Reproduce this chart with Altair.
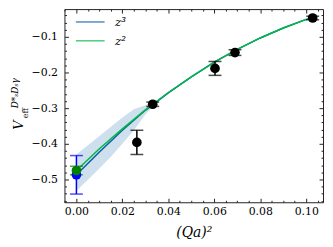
import altair as alt
import pandas as pd

# ---- data ----
pt_x = [0.0263, 0.0332, 0.0603, 0.0690, 0.1028, 0.0, 0.0]
pt_y = [-0.396, -0.289, -0.1885, -0.144, -0.047, -0.487, -0.475]
pt_err = [0.034, 0.006, 0.0195, 0.008, 0.005, 0.054, 0.012]
pt_col = ["#000000", "#000000", "#000000", "#000000", "#000000", "#0000ff", "#008000"]

z2_x = [0.0, 0.01, 0.02, 0.03, 0.04, 0.05, 0.06, 0.07, 0.08, 0.09, 0.10, 0.103]
z2_y = [-0.475, -0.414, -0.358, -0.305, -0.256, -0.212, -0.171, -0.135, -0.103, -0.075, -0.051, -0.046]

z3_x = [0.0, 0.01, 0.02, 0.03, 0.04, 0.05, 0.06, 0.07, 0.08, 0.09, 0.10, 0.103]
z3_y = [-0.487, -0.423, -0.362, -0.306, -0.257, -0.212, -0.171, -0.135, -0.103, -0.075, -0.051, -0.046]

band_x = [0.0, 0.005, 0.01, 0.015, 0.02, 0.025, 0.03, 0.034]
band_lo = [-0.532, -0.501, -0.469, -0.436, -0.400, -0.362, -0.318, -0.292]
band_hi = [-0.430, -0.404, -0.378, -0.352, -0.326, -0.303, -0.292, -0.284]

fit_names = ["z³", "z²"]
fit_colors = ["#0C5DA5", "#00B945"]

x_major = [0.0, 0.02, 0.04, 0.06, 0.08, 0.10]
x_minor = [round(-0.005 + 0.005 * i, 3) for i in range(23)]
x_minor = [v for v in x_minor if all(abs(v - m) > 1e-9 for m in x_major)]
y_major = [-0.5, -0.4, -0.3, -0.2, -0.1]
y_minor = [round(-0.56 + 0.02 * i, 2) for i in range(27)]
y_minor = [v for v in y_minor if all(abs(v - m) > 1e-9 for m in y_major)]

ytitle_parts = ["V", "eff", "D*ₛDₛγ"]

# ---- tables ----
df_pts = pd.DataFrame({"x": pt_x, "y": pt_y, "lo": [a - b for a, b in zip(pt_y, pt_err)],
                       "hi": [a + b for a, b in zip(pt_y, pt_err)], "col": pt_col})
df_z2 = pd.DataFrame({"x": z2_x, "y": z2_y, "fit": fit_names[1]})
df_z3 = pd.DataFrame({"x": z3_x, "y": z3_y, "fit": fit_names[0]})
df_band = pd.DataFrame({"x": band_x, "lo": band_lo, "hi": band_hi})

xs = alt.Scale(domain=[-0.0052, 0.1073], nice=False, zero=False)
ys = alt.Scale(domain=[-0.564, -0.022], nice=False, zero=False)
FONT = "DejaVu Serif"
TC = "#222222"


def xax(orient, vals, size, labels=False, title=None):
    kw = dict(orient=orient, values=vals, tickSize=size, offset=-size, domain=False, grid=False,
              labels=labels, ticks=True, tickColor=TC, tickWidth=1)
    if labels:
        kw.update(format=".2f", labelFont=FONT, labelFontSize=11, labelColor="black",
                  labelPadding=3, labelFlush=False, labelOverlap=False)
    if title:
        kw.update(title=title, titleFont=FONT, titleFontSize=14, titleFontStyle="italic",
                  titleFontWeight="normal", titleColor="black", titlePadding=10)
    else:
        kw.update(title=None)
    return alt.Axis(**kw)


def yax(orient, vals, size, labels=False):
    kw = dict(orient=orient, values=vals, tickSize=size, offset=-size, domain=False, grid=False,
              labels=labels, ticks=True, tickColor=TC, tickWidth=1, title=None)
    if labels:
        kw.update(format=".1f", labelFont=FONT, labelFontSize=11, labelColor="black",
                  labelPadding=7, labelFlush=False, labelOverlap=False)
    return alt.Axis(**kw)


color = alt.Color("fit:N", scale=alt.Scale(domain=fit_names, range=fit_colors),
                  legend=alt.Legend(orient="none", legendX=18, legendY=5, title=None,
                                    symbolType="M-2,0L2,0", symbolSize=210, symbolStrokeWidth=1.5,
                                    labelFont=FONT, labelFontStyle="italic", labelFontSize=12,
                                    labelOffset=17, rowPadding=5, padding=0, labelColor="black"))

band = alt.Chart(df_band).mark_area(color="#0C5DA5", opacity=0.2).encode(
    x=alt.X("x:Q", scale=xs, axis=xax("bottom", x_major, 4, labels=True, title="(Qa)²")),
    y=alt.Y("lo:Q", scale=ys, axis=yax("left", y_major, 4, labels=True)),
    y2="hi:Q")

line3 = alt.Chart(df_z3).mark_line(strokeWidth=1.5).encode(
    x=alt.X("x:Q", scale=xs, axis=xax("bottom", x_minor, 2)),
    y=alt.Y("y:Q", scale=ys, axis=yax("left", y_minor, 2)),
    color=color)

line2 = alt.Chart(df_z2).mark_line(strokeWidth=1.5).encode(
    x=alt.X("x:Q", scale=xs, axis=None),
    y=alt.Y("y:Q", scale=ys, axis=None),
    color=color)

rules = alt.Chart(df_pts).mark_rule(strokeWidth=1.5).encode(
    x=alt.X("x:Q", scale=xs, axis=xax("top", x_major, 4)),
    y=alt.Y("lo:Q", scale=ys, axis=yax("right", y_major, 4)),
    y2="hi:Q",
    color=alt.Color("col:N", scale=None))

cap_lo = alt.Chart(df_pts).mark_tick(orient="horizontal", size=13, thickness=1.5).encode(
    x=alt.X("x:Q", scale=xs, axis=xax("top", x_minor, 2)),
    y=alt.Y("lo:Q", scale=ys, axis=yax("right", y_minor, 2)),
    color=alt.Color("col:N", scale=None))

cap_hi = alt.Chart(df_pts).mark_tick(orient="horizontal", size=13, thickness=1.5).encode(
    x=alt.X("x:Q", scale=xs, axis=None),
    y=alt.Y("hi:Q", scale=ys, axis=None),
    color=alt.Color("col:N", scale=None))

points = alt.Chart(df_pts).mark_circle(size=95, opacity=1).encode(
    x=alt.X("x:Q", scale=xs, axis=None),
    y=alt.Y("y:Q", scale=ys, axis=None),
    color=alt.Color("col:N", scale=None))

t_v = alt.Chart(pd.DataFrame({"t": [ytitle_parts[0]]})).mark_text(
    angle=270, font=FONT, fontSize=13, fontStyle="italic", align="center", baseline="middle",
    color="black").encode(text="t:N", x=alt.value(-46), y=alt.value(117))
t_sub = alt.Chart(pd.DataFrame({"t": [ytitle_parts[1]]})).mark_text(
    angle=270, font=FONT, fontSize=8, align="center", baseline="middle",
    color="black").encode(text="t:N", x=alt.value(-39), y=alt.value(105))
t_sup = alt.Chart(pd.DataFrame({"t": [ytitle_parts[2]]})).mark_text(
    angle=270, font=FONT, fontSize=9, fontStyle="italic", align="center", baseline="middle",
    color="black").encode(text="t:N", x=alt.value(-50), y=alt.value(85))

chart = alt.layer(band, line3, line2, rules, cap_lo, cap_hi, points, t_v, t_sub, t_sup).resolve_axis(
    x="independent", y="independent").properties(
    width=261, height=195, autosize=alt.AutoSizeParams(type="none"),
    padding={"left": 57, "top": 0, "right": 2, "bottom": 36}
).configure_view(stroke="#222222", strokeWidth=1)

chart.save("out.html", embed_options={"renderer": "svg", "actions": False})
